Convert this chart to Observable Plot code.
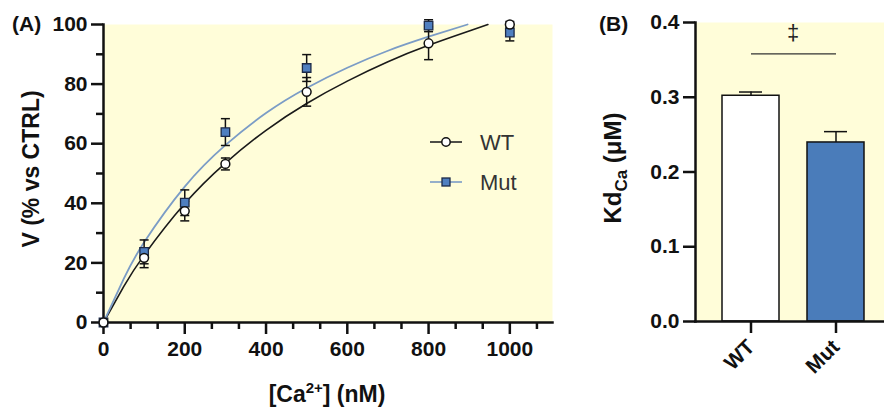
<!DOCTYPE html>
<html>
<head>
<meta charset="utf-8">
<script src="https://cdn.jsdelivr.net/npm/d3@7"></script>
<script src="https://cdn.jsdelivr.net/npm/@observablehq/plot@0.6"></script>
<style>
  html, body { margin: 0; padding: 0; background: #ffffff; }
  #wrap { display: flex; width: 884px; height: 411px; overflow: hidden; }
  #wrap svg { display: block; flex: none; }
</style>
</head>
<body>
<div id="wrap"></div>
<script>
// ---------- Panel A data ----------
const conc    = [0, 100, 200, 300, 500, 800, 1000];
const wtMean  = [0, 21.7, 37.4, 53.2, 77.4, 93.7, 100];
const wtErr   = [0, 3.3, 3.3, 2.0, 4.8, 5.5, 1.0];
const mutMean = [0, 23.7, 40.2, 63.9, 85.4, 99.6, 97.3];
const mutErr  = [0, 4.0, 4.3, 4.5, 4.5, 2.0, 2.8];

// fitted curves
const wtFitX  = [0, 50, 100, 200, 300, 400, 500, 600, 700, 800, 900, 946];
const wtFitY  = [0, 12.1, 22.6, 39.9, 53.5, 64.5, 73.5, 81.0, 87.5, 93.0, 97.8, 100];
const mutFitX = [0, 50, 100, 200, 300, 400, 500, 600, 700, 800, 896];
const mutFitY = [0, 14.7, 26.9, 45.6, 59.5, 70.3, 78.7, 85.5, 91.2, 95.9, 100];

const xMajorTicks = [0, 200, 400, 600, 800, 1000];
const xMinorTicks = [66.7, 133.3, 266.7, 333.3, 466.7, 533.3, 666.7, 733.3, 866.7, 933.3, 1066.7];
const yMajorTicks = [0, 20, 40, 60, 80, 100];
const yMinorTicks = [10, 30, 50, 70, 90];
const seriesNames = ["WT", "Mut"];

// ---------- Panel B data ----------
const groups  = ["WT", "Mut"];
const kdMean  = [0.302, 0.2395];
const kdErr   = [0.005, 0.0145];
const kdTicks = [0, 0.1, 0.2, 0.3, 0.4];
const sigPair = ["WT", "Mut"];
const sigLevel = 0.358;
const sigMarkLevel = 0.386;
const sigMark = "‡";

// ---------- styles ----------
const FONT = '"Liberation Sans", Arial, Helvetica, sans-serif';
const BG = "#fffdd9";
const INK = "#111111";
const BLUE_LINE = "#7b9cc6";
const BLUE_FILL = "#4f7fc0";
const BLUE_EDGE = "#1c2a48";
const BAR_FILL = ["#ffffff", "#4a7cba"];
const TICK_FONT = {fontSize: 21, fontWeight: "bold", fill: INK};

const cap = (w) => ({ draw(ctx) { ctx.moveTo(-w, 0); ctx.lineTo(w, 0); } });

const wt  = conc.map((x, i) => ({x, y: wtMean[i],  e: wtErr[i]}));
const mut = conc.map((x, i) => ({x, y: mutMean[i], e: mutErr[i]}));
const errRows = [...mut, ...wt].filter(d => d.e > 0);
const wtFit  = wtFitX.map((x, i) => ({x, y: wtFitY[i]}));
const mutFit = mutFitX.map((x, i) => ({x, y: mutFitY[i]}));

const A = Plot.plot({
  width: 560, height: 411,
  marginLeft: 103, marginRight: 8, marginTop: 24, marginBottom: 89,
  style: {fontFamily: FONT, fontSize: "21px", fontWeight: "bold", color: INK, background: "transparent", overflow: "visible"},
  x: {domain: [0, 1105]},
  y: {domain: [0, 100]},
  marks: [
    Plot.frame({fill: BG, stroke: null}),
    Plot.axisY(yMinorTicks, {tickSize: 7, tickFormat: () => "", strokeWidth: 2.5, label: null}),
    Plot.axisY(yMajorTicks, {tickSize: 12, tickPadding: 4, tickFormat: d3.format("d"), strokeWidth: 2.5, label: null, ...TICK_FONT}),
    Plot.axisX(xMinorTicks, {tickSize: 7, tickFormat: () => "", strokeWidth: 2.5, label: null}),
    Plot.axisX(xMajorTicks, {tickSize: 12, tickPadding: 7, tickFormat: d3.format("d"), strokeWidth: 2.5, label: null, ...TICK_FONT}),
    Plot.frame({anchor: "left", stroke: INK, strokeWidth: 2.5}),
    Plot.frame({anchor: "bottom", stroke: INK, strokeWidth: 2.5}),
    Plot.line(wtFit, {x: "x", y: "y", stroke: "#1a1a1a", strokeWidth: 1.6, curve: "natural"}),
    Plot.line(mutFit, {x: "x", y: "y", stroke: BLUE_LINE, strokeWidth: 1.8, curve: "natural"}),
    Plot.ruleX(errRows, {x: "x", y1: d => d.y - d.e, y2: d => d.y + d.e, stroke: INK, strokeWidth: 1.5}),
    Plot.dot(errRows, {x: "x", y: d => d.y + d.e, symbol: cap(4.5), fill: "none", stroke: INK, strokeWidth: 1.5}),
    Plot.dot(errRows, {x: "x", y: d => d.y - d.e, symbol: cap(4.5), fill: "none", stroke: INK, strokeWidth: 1.5}),
    Plot.dot(mut, {x: "x", y: "y", symbol: "square", r: 4.8, fill: BLUE_FILL, stroke: BLUE_EDGE, strokeWidth: 1.3}),
    Plot.dot(wt, {x: "x", y: "y", symbol: "circle", r: 4.4, fill: "#ffffff", stroke: INK, strokeWidth: 1.5})
  ]
});

// titles and legend for A
{
  const s = d3.select(A);
  s.append("text").attr("x", 12).attr("y", 31).attr("text-anchor", "start")
    .style("font-size", "21px").style("font-weight", "bold").attr("fill", INK).text("(A)");
  s.append("text").attr("transform", "translate(39,169) rotate(-90)")
    .attr("text-anchor", "middle").style("font-size", "23px").style("font-weight", "bold")
    .attr("fill", INK).text("V (% vs CTRL)");
  const xt = s.append("text").attr("x", 327).attr("y", 402).attr("text-anchor", "middle")
    .style("font-size", "23px").style("font-weight", "bold").attr("fill", INK);
  xt.append("tspan").text("[Ca");
  xt.append("tspan").attr("dy", -9).style("font-size", "15px").text("2+");
  xt.append("tspan").attr("dy", 9).text("] (nM)");

  const lg = s.append("g");
  const rows = [
    {name: seriesNames[0], y: 142, line: "#222", sym: "circle"},
    {name: seriesNames[1], y: 182, line: BLUE_LINE, sym: "square"}
  ];
  for (const r of rows) {
    lg.append("line").attr("x1", 430).attr("x2", 462).attr("y1", r.y).attr("y2", r.y)
      .attr("stroke", r.line).attr("stroke-width", 1.6);
    if (r.sym === "circle") {
      lg.append("circle").attr("cx", 446).attr("cy", r.y).attr("r", 4.2)
        .attr("fill", "#fff").attr("stroke", INK).attr("stroke-width", 1.5);
    } else {
      lg.append("rect").attr("x", 442).attr("y", r.y - 4).attr("width", 8).attr("height", 8)
        .attr("fill", BLUE_FILL).attr("stroke", BLUE_EDGE).attr("stroke-width", 1.3);
    }
    lg.append("text").attr("x", 480).attr("y", r.y).attr("dy", "0.36em").attr("text-anchor", "start")
      .style("font-size", "22px").style("font-weight", "normal").attr("fill", "#333").text(r.name);
  }
}

// ---------- Panel B ----------
const kd = groups.map((g, i) => ({g, v: kdMean[i], e: kdErr[i], fill: BAR_FILL[i]}));
const sig = [{from: sigPair[0], to: sigPair[1], y: sigLevel}];

const B = Plot.plot({
  width: 324, height: 411,
  marginLeft: 135, marginRight: 0, marginTop: 22, marginBottom: 90,
  style: {fontFamily: FONT, fontSize: "21px", fontWeight: "bold", color: INK, background: "transparent", overflow: "visible"},
  x: {domain: groups, paddingInner: 0.33, paddingOuter: 0.27, align: 0.58},
  y: {domain: [0, 0.4]},
  color: {type: "identity"},
  marks: [
    Plot.frame({fill: BG, stroke: null}),
    Plot.barY(kd, {x: "g", y: "v", fill: "fill", stroke: INK, strokeWidth: 1.5}),
    Plot.ruleX(kd, {x: "g", y1: "v", y2: d => d.v + d.e, stroke: INK, strokeWidth: 1.5}),
    Plot.tickY(kd, {x: "g", y: d => d.v + d.e, inset: 17, stroke: INK, strokeWidth: 1.5}),
    Plot.link(sig, {x1: "from", x2: "to", y1: "y", y2: "y", stroke: "#333", strokeWidth: 1.2}),
    Plot.axisY(kdTicks, {tickSize: 12, tickPadding: 4, tickFormat: d3.format(".1f"), strokeWidth: 2.5, label: null, ...TICK_FONT}),
    Plot.axisX({tickSize: 12, tickRotate: -45, tickPadding: 10, strokeWidth: 2.5, label: null, ...TICK_FONT}),
    Plot.frame({anchor: "left", stroke: INK, strokeWidth: 2.5}),
    Plot.frame({anchor: "bottom", stroke: INK, strokeWidth: 2.5})
  ]
});

{
  const s = d3.select(B);
  s.append("text").attr("x", 39).attr("y", 31).attr("text-anchor", "start")
    .style("font-size", "21px").style("font-weight", "bold").attr("fill", INK).text("(B)");
  const yt = s.append("text").attr("transform", "translate(61,168) rotate(-90)")
    .attr("text-anchor", "middle").style("font-size", "24px").style("font-weight", "bold").attr("fill", INK);
  yt.append("tspan").text("Kd");
  yt.append("tspan").attr("dy", 6).style("font-size", "17px").text("Ca");
  yt.append("tspan").attr("dy", -6).text(" (μM)");

  const xs = B.scale("x"), ys = B.scale("y");
  const cx = (xs.apply(sigPair[0]) + xs.apply(sigPair[1])) / 2 + xs.bandwidth / 2;
  s.append("text").attr("x", cx).attr("y", ys.apply(sigMarkLevel)).attr("text-anchor", "middle")
    .attr("dy", "0.35em").style("font-size", "22px").style("font-weight", "normal").attr("fill", "#222")
    .text(sigMark);
}

const wrap = document.getElementById("wrap");
wrap.appendChild(A);
wrap.appendChild(B);
</script>
</body>
</html>
